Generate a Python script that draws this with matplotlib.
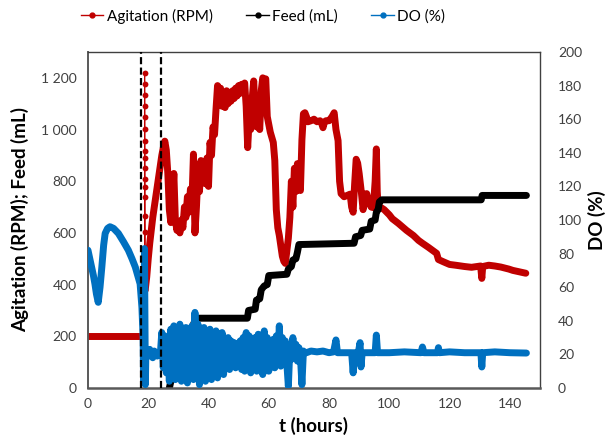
import numpy as np
import matplotlib.pyplot as plt
from matplotlib.lines import Line2D
from matplotlib.ticker import FuncFormatter, MultipleLocator

plt.rcParams['font.family'] = ['Lato', 'DejaVu Sans']

RED = '#C00000'
BLACK = '#000000'
BLUE = '#0070C0'
TICK_GREY = '#404040'

# start / end of the induction window (h)
event_hours = [17.7, 24.3]

# agitation (RPM): flat start, fast ramp at induction, logged run, tail
agit_start_hours = [0.0, 17.6]
agit_start_rpm = [200, 200]

agit_ramp_hour = 18.8
agit_ramp_rpm = [540, 603, 667, 738, 777, 809, 852, 890, 918, 957,
                 1002, 1047, 1092, 1134, 1178, 1218]

agit_log_hours = np.arange(19.0, 72.5, 0.5)
agit_log_rpm = [380, 430, 500, 560, 610, 660, 700, 740, 780, 820,
                860, 900, 930, 955, 920, 830, 690, 640, 720, 830,
                650, 610, 640, 600, 650, 620, 700, 660, 740, 680,
                770, 720, 905, 600, 700, 830, 760, 880, 800, 860,
                790, 890, 780, 950, 900, 1010, 980, 1080, 1170, 1120,
                1160, 1090, 1140, 1085, 1150, 1100, 1140, 1110, 1150, 1120,
                1160, 1130, 1170, 1140, 1175, 1150, 1180, 1090, 930, 1040,
                1000, 1120, 1188, 1060, 1010, 1030, 1000, 1150, 1200, 1190,
                1196, 1050, 1020, 990, 970, 950, 880, 690, 620, 590,
                550, 510, 490, 482, 530, 580, 660, 800, 700, 850,
                760, 868, 790, 764, 960, 1061, 1065]

agit_tail_hours = [72.5, 73, 74, 75, 76, 77, 77.5, 78, 78.5, 79,
                   80, 81, 81.7, 82.3, 83, 83.5, 84, 85, 86, 87,
                   87.5, 88, 88.5, 89, 89.5, 90, 90.7, 91.3, 92, 92.5,
                   93.3, 94, 94.7, 95.3, 95.7, 96.0, 96.3, 97, 98.3, 100,
                   101, 103, 105.7, 108, 109.7, 111, 113, 115.7, 116.3, 118,
                   120, 122, 125, 127.3, 129, 130.3, 130.7, 131, 133, 135,
                   137, 139.7, 141, 143, 145.3]
agit_tail_rpm = [1050, 1030, 1034, 1040, 1030, 1034, 1025, 1007, 1030, 1034,
                 1034, 1050, 1065, 1000, 957, 800, 752, 740, 745, 750,
                 700, 680, 790, 885, 870, 830, 760, 690, 750, 752,
                 714, 700, 698, 800, 925, 760, 698, 700, 690, 670,
                 655, 637, 610, 590, 571, 560, 544, 521, 497, 488,
                 478, 475, 470, 467, 470, 472, 424, 470, 475, 472,
                 468, 460, 455, 450, 444]

# cumulative feed (mL)
feed_hours = [27.0, 27.4, 28.5, 30.0, 32.0, 34.0, 35.5, 36.0,
              52.9, 53.3, 55.5, 55.9, 57.0, 57.5, 58.5, 59.5, 60.0,
              66.0, 66.5, 67.5, 68.0, 69.0, 69.5, 70.0,
              88.3, 88.8, 90.5, 91.0, 93.5, 94.0, 95.3, 95.7, 96.3, 96.7, 97.5,
              130.5, 130.8, 145.5]
feed_ml = [0, 20, 60, 110, 170, 220, 260, 270,
           270, 300, 305, 340, 345, 380, 395, 400, 435,
           440, 460, 470, 495, 500, 525, 555,
           560, 585, 590, 610, 615, 645, 650, 680, 690, 720, 728,
           728, 745, 745]

# dissolved oxygen (%)
do_start_hours = [0.0, 0.6, 1.2, 1.8, 2.3, 2.8, 3.4, 4.0, 4.6, 5.2,
                  5.7, 6.5, 7.3, 8.5, 10.1, 11.8, 13.4, 14.6, 15.7, 16.5,
                  17.3, 17.9, 18.3, 18.45, 18.6, 18.75, 18.9, 19.05, 19.2, 19.5,
                  20.0, 20.5, 21.0, 21.5, 22.0, 22.5, 23.0, 23.5, 24.0]
do_start_pct = [82, 77, 72, 67, 62, 56, 51, 60, 72, 85,
                92, 95, 96, 95, 92, 87, 82, 77, 72, 67,
                62, 48, 30, 3, 40, 83, 45, 2, 20, 22,
                19, 23, 20, 18, 22, 20, 19, 21, 20]

do_log_hours = np.arange(24.5, 72.5, 0.5)
do_log_pct = [33, 12, 31, 9, 28, 4, 35, 8, 37, 5,
              30, 6, 38, 4, 33, 9, 36, 3, 34, 7,
              37, 5, 45, 6, 38, 2, 35, 8, 36, 4,
              33, 7, 35, 5, 32, 9, 34, 6, 31, 10,
              33, 8, 29, 12, 30, 11, 28, 13, 27, 12,
              26, 14, 28, 11, 30, 10, 33, 12, 31, 9,
              28, 13, 30, 10, 32, 11, 29, 8, 34, 12,
              30, 10, 27, 14, 29, 12, 31, 15, 37, 13,
              30, 16, 28, 14, 1, 24, 17, 30, 18, 26,
              16, 24, 19, 2, 22, 21]

do_tail_hours = [72.5, 74, 76, 78, 80, 81.5, 82.3, 82.8, 85, 87.5,
                 88.0, 88.4, 89.7, 90.3, 90.6, 91.0, 95.3, 95.7, 96.1, 100,
                 105, 110.5, 111.0, 111.5, 116.0, 116.3, 116.6, 120, 125, 130.4,
                 130.7, 131.0, 135, 140, 145.5]
do_tail_pct = [21, 22, 21.5, 22, 21, 21.5, 28.6, 21, 21, 21,
               9, 21, 21, 27, 12.5, 21, 21, 31.5, 21, 21,
               21.5, 21, 24.4, 21, 21, 24, 21, 21.5, 21, 21,
               12.5, 21, 21.5, 21, 20.8]

agit_hours = np.concatenate([agit_log_hours, agit_tail_hours])
agit_rpm = np.concatenate([agit_log_rpm, agit_tail_rpm])
do_hours = np.concatenate([do_start_hours, do_log_hours, do_tail_hours])
do_pct = np.concatenate([do_start_pct, do_log_pct, do_tail_pct])

ramp_hours = [agit_start_hours[-1]] + [agit_ramp_hour] * len(agit_ramp_rpm) + [agit_log_hours[0]]
ramp_rpm = [agit_start_rpm[-1]] + agit_ramp_rpm + [agit_log_rpm[0]]

fig = plt.figure(figsize=(6.08, 4.41), dpi=100)
ax = fig.add_axes([0.1447, 0.1202, 0.7434, 0.7619])
ax2 = ax.twinx()

band = dict(lw=5.0, solid_joinstyle='round', solid_capstyle='round')
ax.plot(agit_start_hours, agit_start_rpm, color=RED, **band)
ax.plot(ramp_hours, ramp_rpm, color=RED, lw=0.8, marker='o', ms=4.2,
        markeredgewidth=0)
ax.plot(agit_hours, agit_rpm, color=RED, **band)
ax.plot(feed_hours, feed_ml, color=BLACK, **band)
ax2.plot(do_hours, do_pct, color=BLUE, **band)

for h in event_hours:
    ax2.axvline(h, color='black', lw=1.6, ls=(0, (3.2, 1.5)), zorder=5)

ax.set_xlim(0, 150)
ax.set_ylim(0, 1300)
ax2.set_ylim(0, 200)
ax.set_xticks(range(0, 141, 20))
ax.yaxis.set_major_locator(MultipleLocator(200))
ax2.yaxis.set_major_locator(MultipleLocator(20))
ax.yaxis.set_major_formatter(FuncFormatter(lambda v, _: f'{int(v):,}'.replace(',', ' ')))

ax.tick_params(axis='x', length=0, pad=7, labelsize=10, labelcolor=TICK_GREY)
ax.tick_params(axis='y', length=0, pad=8, labelsize=10, labelcolor=TICK_GREY)
ax2.tick_params(axis='y', length=0, pad=13, labelsize=10, labelcolor=TICK_GREY)

for s in ax2.spines.values():
    s.set_visible(False)
for name, s in ax.spines.items():
    s.set_color('#404040')
    s.set_linewidth(1.0)
ax.spines['bottom'].set_color('#595959')
ax.spines['bottom'].set_linewidth(1.8)
ax.spines['left'].set_color('#595959')
ax.spines['left'].set_linewidth(1.4)

ax.set_xlabel('t (hours)', fontsize=13.5, fontweight='bold')
ax.set_ylabel('Agitation (RPM); Feed (mL)', fontsize=13.5, fontweight='bold')
ax2.set_ylabel('DO (%)', fontsize=13.5, fontweight='bold', rotation=90)
ax.xaxis.set_label_coords(0.5, -0.085)
ax.yaxis.set_label_coords(-0.13, 0.5)
ax2.yaxis.set_label_coords(1.106, 0.5)

handles = [Line2D([0], [0], color=c, lw=1, marker='o', ms=3.5) for c in (RED, BLACK, BLUE)]
fig.legend(handles, ['Agitation (RPM)', 'Feed (mL)', 'DO (%)'], loc='center',
           bbox_to_anchor=(263 / 608, 1 - 16 / 441), ncol=3, frameon=False,
           fontsize=11, handlelength=1.5, handletextpad=0.2, columnspacing=2.2)

fig.savefig('out.png', dpi=100)
